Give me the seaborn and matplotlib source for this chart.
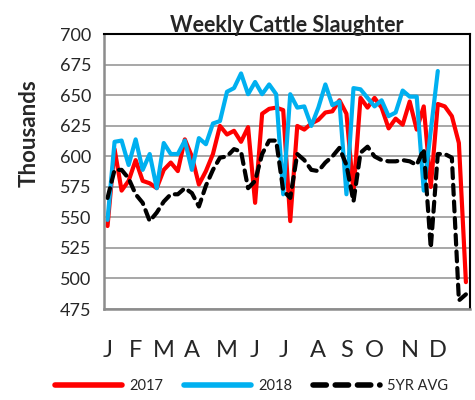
import matplotlib
matplotlib.use('Agg')
import pandas as pd
import matplotlib.pyplot as plt
import seaborn as sns

# weekly slaughter, thousands of head
y2017 = [543, 606, 572, 580, 597, 580, 578, 574, 589, 595, 588, 614, 600, 577, 588, 602,
         625, 618, 621, 612, 624, 562, 635, 639, 640, 638, 547, 625, 622, 627, 630, 636,
         637, 646, 635, 571, 648, 640, 648, 640, 623, 631, 626, 645, 622, 641, 575, 643,
         641, 633, 611, 497]
y2018 = [548, 612, 613, 593, 614, 589, 602, 574, 611, 602, 602, 613, 589, 615, 610, 627,
         629, 653, 656, 668, 651, 661, 651, 659, 651, 569, 651, 640, 641, 625, 640, 659,
         642, 645, 569, 656, 655, 648, 641, 646, 633, 636, 654, 649, 649, 572, 621, 670]
avg5 = [566, 589, 589, 582, 569, 562, 547, 554, 563, 569, 569, 574, 570, 559, 576, 589,
        599, 600, 606, 604, 574, 580, 602, 613, 613, 572, 566, 602, 597, 589, 588, 595,
        600, 607, 593, 563, 603, 608, 600, 597, 596, 596, 597, 596, 593, 606, 525, 602,
        602, 599, 482, 487]

month_labels = ['J', 'F', 'M', 'A', 'M', 'J', 'J', 'A', 'S', 'O', 'N', 'D']
month_weeks = [0, 4, 8, 12, 17, 21, 25, 30, 34, 38, 43, 47]

df17 = pd.DataFrame({'week': range(len(y2017)), 'value': y2017})
df18 = pd.DataFrame({'week': range(len(y2018)), 'value': y2018})
dfavg = pd.DataFrame({'week': range(len(avg5)), 'value': avg5})

sns.set_style('white')
plt.rcParams['font.family'] = ['Lato', 'DejaVu Sans']

fig = plt.figure(figsize=(4.75, 4), dpi=100)
ax = fig.add_axes([0.219, 0.2275, 0.77, 0.6865])

sns.lineplot(data=df17, x='week', y='value', color='#ff0000', lw=3, label='2017', ax=ax)
sns.lineplot(data=df18, x='week', y='value', color='#00b0f0', lw=3, label='2018', ax=ax)
sns.lineplot(data=dfavg, x='week', y='value', color='black', lw=3, label='5YR AVG', ax=ax)
ax.lines[2].set_dashes((2.4, 1.6))
ax.lines[2].set_dash_capstyle('round')

ax.set_xlim(-0.14, 51.55)
ax.set_ylim(475, 700)
ax.set_yticks(range(475, 701, 25))
ax.yaxis.grid(True, color='#a0a0a0', lw=1.3)
ax.set_axisbelow(True)

ax.set_xticks(month_weeks)
ax.set_xticklabels(month_labels, fontsize=17)
ax.set_xticks([i + 0.5 for i in range(-1, 52)], minor=True)
ax.tick_params(axis='x', which='major', length=0, pad=22)
ax.tick_params(axis='x', which='minor', length=5, width=1, color='#a0a0a0', direction='out')
ax.tick_params(axis='y', length=0, labelsize=13, pad=9)

ax.set_xlabel('')
ax.set_ylabel('Thousands', fontsize=16, fontweight='bold')
ax.yaxis.set_label_coords(-0.175, 0.64)
ax.set_title('Weekly Cattle Slaughter', fontsize=15.5, fontweight='bold', pad=2)

for s in ['left', 'bottom']:
    ax.spines[s].set_color('#8c8c8c')
    ax.spines[s].set_linewidth(1.8)
for s in ['top', 'right']:
    ax.spines[s].set_color('black')
    ax.spines[s].set_linewidth(1.5)

leg = ax.legend(loc='center', bbox_to_anchor=(0.53, 0.035), bbox_transform=fig.transFigure,
                ncol=3, frameon=False, fontsize=10.5, handlelength=4.6, columnspacing=1.4,
                handletextpad=0.5)
for h in leg.get_lines():
    h.set_linewidth(4)

fig.savefig('out.png', dpi=100)
